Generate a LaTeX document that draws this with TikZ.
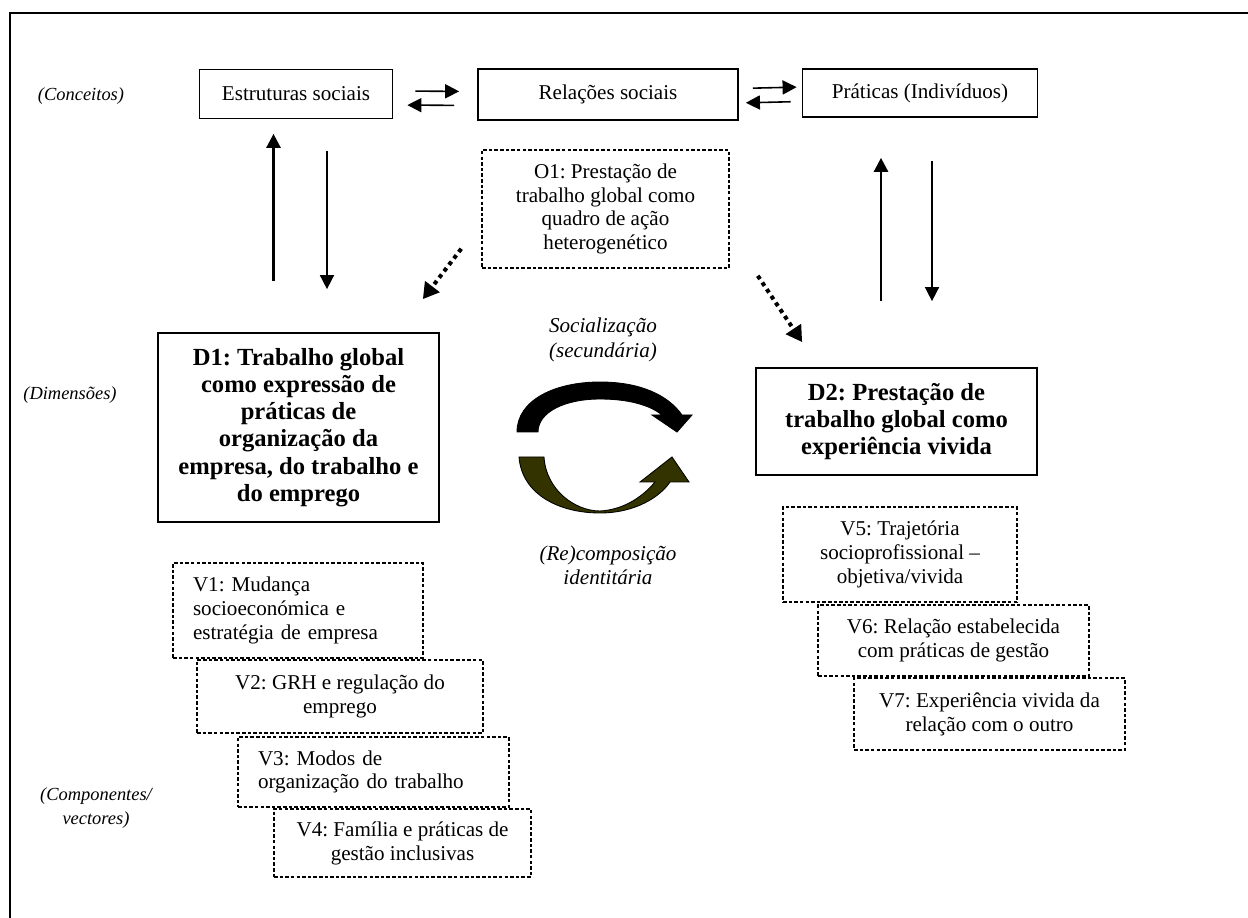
\documentclass[tikz,border=0pt]{standalone}
\usepackage{fontspec}
\setmainfont{Liberation Serif}
\usepackage{xcolor}
\usetikzlibrary{positioning,arrows.meta,calc}
\definecolor{cycleolive}{RGB}{51,51,0}
\frenchspacing

\begin{document}
\begin{tikzpicture}[
            x=0.02cm, y=-0.02cm,
            font=\fontsize{12}{13.6}\selectfont,
            >={Triangle[length=8pt,width=8pt]},
            concept/.style={
                    rectangle, draw, line width=1pt,
                    align=center, inner sep=2pt
                },
            dimension/.style={
                    concept,
                    font=\fontsize{14}{15.5}\selectfont\bfseries
                },
            vector/.style={
                    rectangle, draw, line width=0.9pt,
                    dash pattern=on 2pt off 1.2pt,
                    fill=white, align=center, inner sep=2pt
                },
            level/.style={font=\fontsize{10.5}{14}\selectfont\itshape, align=center},
            process/.style={font=\fontsize{12}{13.8}\selectfont\itshape, align=center},
            arrow/.style={->, line width=0.9pt},
            thickarrow/.style={->, line width=1.5pt},
            dotarrow/.style={->, line width=2.3pt, dash pattern=on 2.3pt off 2.3pt,
                    >={Triangle[length=9pt,width=10pt]}}
            ]

            \useasboundingbox (0,0) rectangle (1248,918);

            % ===== Outer frame =====
            \draw[line width=1pt] (10,13) rectangle (1258,928);

            % ===== Level labels (left side) =====
            \node[level] (lconc) at (81,96) {(Conceitos)};
            \node[level] (ldim) at (70,395) {(Dimensões)};
            \node[level] (lcomp) at (96,808) {(Componentes/\\vectores)};

            % ===== Concepts (top row) =====
            \node[concept, minimum width=3.86cm, minimum height=0.98cm] (estr) at (296,94) {Estruturas sociais};
            \node[concept, minimum width=5.2cm, minimum height=1.02cm] (rel) at (608,94.5) {Relações sociais};
            \node[concept, minimum width=4.7cm, minimum height=0.96cm] (prat) at (920,93) {Práticas (Indivíduos)};

            % ===== Object O1 =====
            \node[vector, minimum width=4.94cm, minimum height=2.36cm] (o1) at (605.5,209) {
            O1: Prestação de\\trabalho global como\\quadro de ação\\heterogenético
            };

            % ===== Dimensions =====
            \node[dimension, minimum width=5.62cm, minimum height=3.78cm] (d1) at (298.5,427.5) {
            D1: Trabalho global\\como expressão de\\práticas de\\organização da\\empresa, do trabalho e\\do emprego
            };
            \node[dimension, minimum width=5.62cm, minimum height=2.14cm] (d2) at (896.5,421.5) {
            D2: Prestação de\\trabalho global como\\experiência vivida
            };

            % ===== Process labels (centre) =====
            \node[process] (soc) at (603,340) {Socialização\\(secundária)};
            \node[process] (recomp) at (608,565) {(Re)composição\\identitária};

            % ===== Vectors of D1 =====
            \node[vector, minimum width=5cm, minimum height=1.9cm, text width=4.2cm, inner xsep=0.4cm, align=left] (v1) at (298,610.5) {
            V1: Mudança\\socioeconómica e\\estratégia de empresa
            };
            \node[vector, minimum width=5.72cm, minimum height=1.46cm] (v2) at (340,696.5) {V2: GRH e regulação do\\emprego};
            \node[vector, minimum width=5.42cm, minimum height=1.4cm, text width=4.62cm, inner xsep=0.4cm, align=left] (v3) at (373.5,772) {
            V3: Modos de\\organização do trabalho
            };
            \node[vector, minimum width=5.14cm, minimum height=1.36cm] (v4) at (402.5,843) {V4: Família e práticas de\\gestão inclusivas};

            % ===== Vectors of D2 =====
            \node[vector, minimum width=4.68cm, minimum height=1.9cm] (v5) at (900,554.5) {
            V5: Trajetória\\socioprofissional \textendash\\objetiva/vivida
            };
            \node[vector, minimum width=5.42cm, minimum height=1.42cm] (v6) at (953.5,640.5) {V6: Relação estabelecida\\com práticas de gestão};
            \node[vector, minimum width=5.42cm, minimum height=1.44cm] (v7) at (989.5,714) {V7: Experiência vivida da\\relação com o outro};

            % ===== Arrows between concepts =====
            \draw[arrow, shorten <=0.44cm, shorten >=0.36cm] ([yshift=0.06cm]estr.east) -- ([yshift=0.06cm]rel.west);
            \draw[arrow, shorten <=0.46cm, shorten >=0.28cm] ([yshift=-0.22cm]rel.west) -- ([yshift=-0.22cm]estr.east);
            \draw[arrow, shorten <=0.28cm, shorten >=0.1cm] ([yshift=0.12cm]rel.east) -- ([yshift=0.12cm]prat.west);
            \draw[arrow, shorten <=0.22cm, shorten >=0.14cm] ([yshift=-0.17cm]prat.west) -- ([yshift=-0.17cm]rel.east);

            % ===== Concepts <-> dimensions =====
            \draw[thickarrow, shorten <=1.02cm, shorten >=0.29cm] ([xshift=-0.45cm]estr.south |- d1.north) -- ([xshift=-0.45cm]estr.south);
            \draw[arrow, shorten <=0.63cm, shorten >=0.86cm] ([xshift=0.62cm]estr.south) -- ([xshift=0.62cm]estr.south |- d1.north);
            \draw[thickarrow, shorten <=1.32cm, shorten >=0.8cm] ([xshift=-0.78cm]prat.south |- d2.north) -- ([xshift=-0.78cm]prat.south);
            \draw[arrow, shorten <=0.86cm, shorten >=1.32cm] ([xshift=0.24cm]prat.south) -- ([xshift=0.24cm]prat.south |- d2.north);

            % ===== Object -> dimensions (dotted) =====
            \draw[dotarrow] ([shift={(-20,-20)}]o1.south west) -- ([shift={(-17,-33)}]d1.north east);
            \draw[dotarrow] ([shift={(28,7)}]o1.south east) -- ([shift={(47,-25)}]d2.north west);

            % ===== Cycle arrows (centre) =====
            \filldraw[fill=black, draw=black, line width=0.5pt]
            (517,432) .. controls (517,400) and (555,382) .. (600,382)
            .. controls (640,382) and (668,395) .. (682,415)
            -- (692,415) -- (677,432) -- (652,415) -- (662,415)
            .. controls (650,405) and (628,399) .. (600,399)
            .. controls (565,399) and (538,412) .. (538,432) -- cycle;
            \filldraw[fill=cycleolive, draw=black, line width=0.5pt]
            (519,457) .. controls (522,495) and (560,513) .. (600,513)
            .. controls (635,513) and (660,497) .. (670,482)
            -- (689,482) -- (672,457) -- (640,482) -- (655,482)
            .. controls (640,500) and (620,510) .. (600,511)
            .. controls (575,511) and (546,490) .. (544,457) -- cycle;

        \end{tikzpicture}
\end{document}
